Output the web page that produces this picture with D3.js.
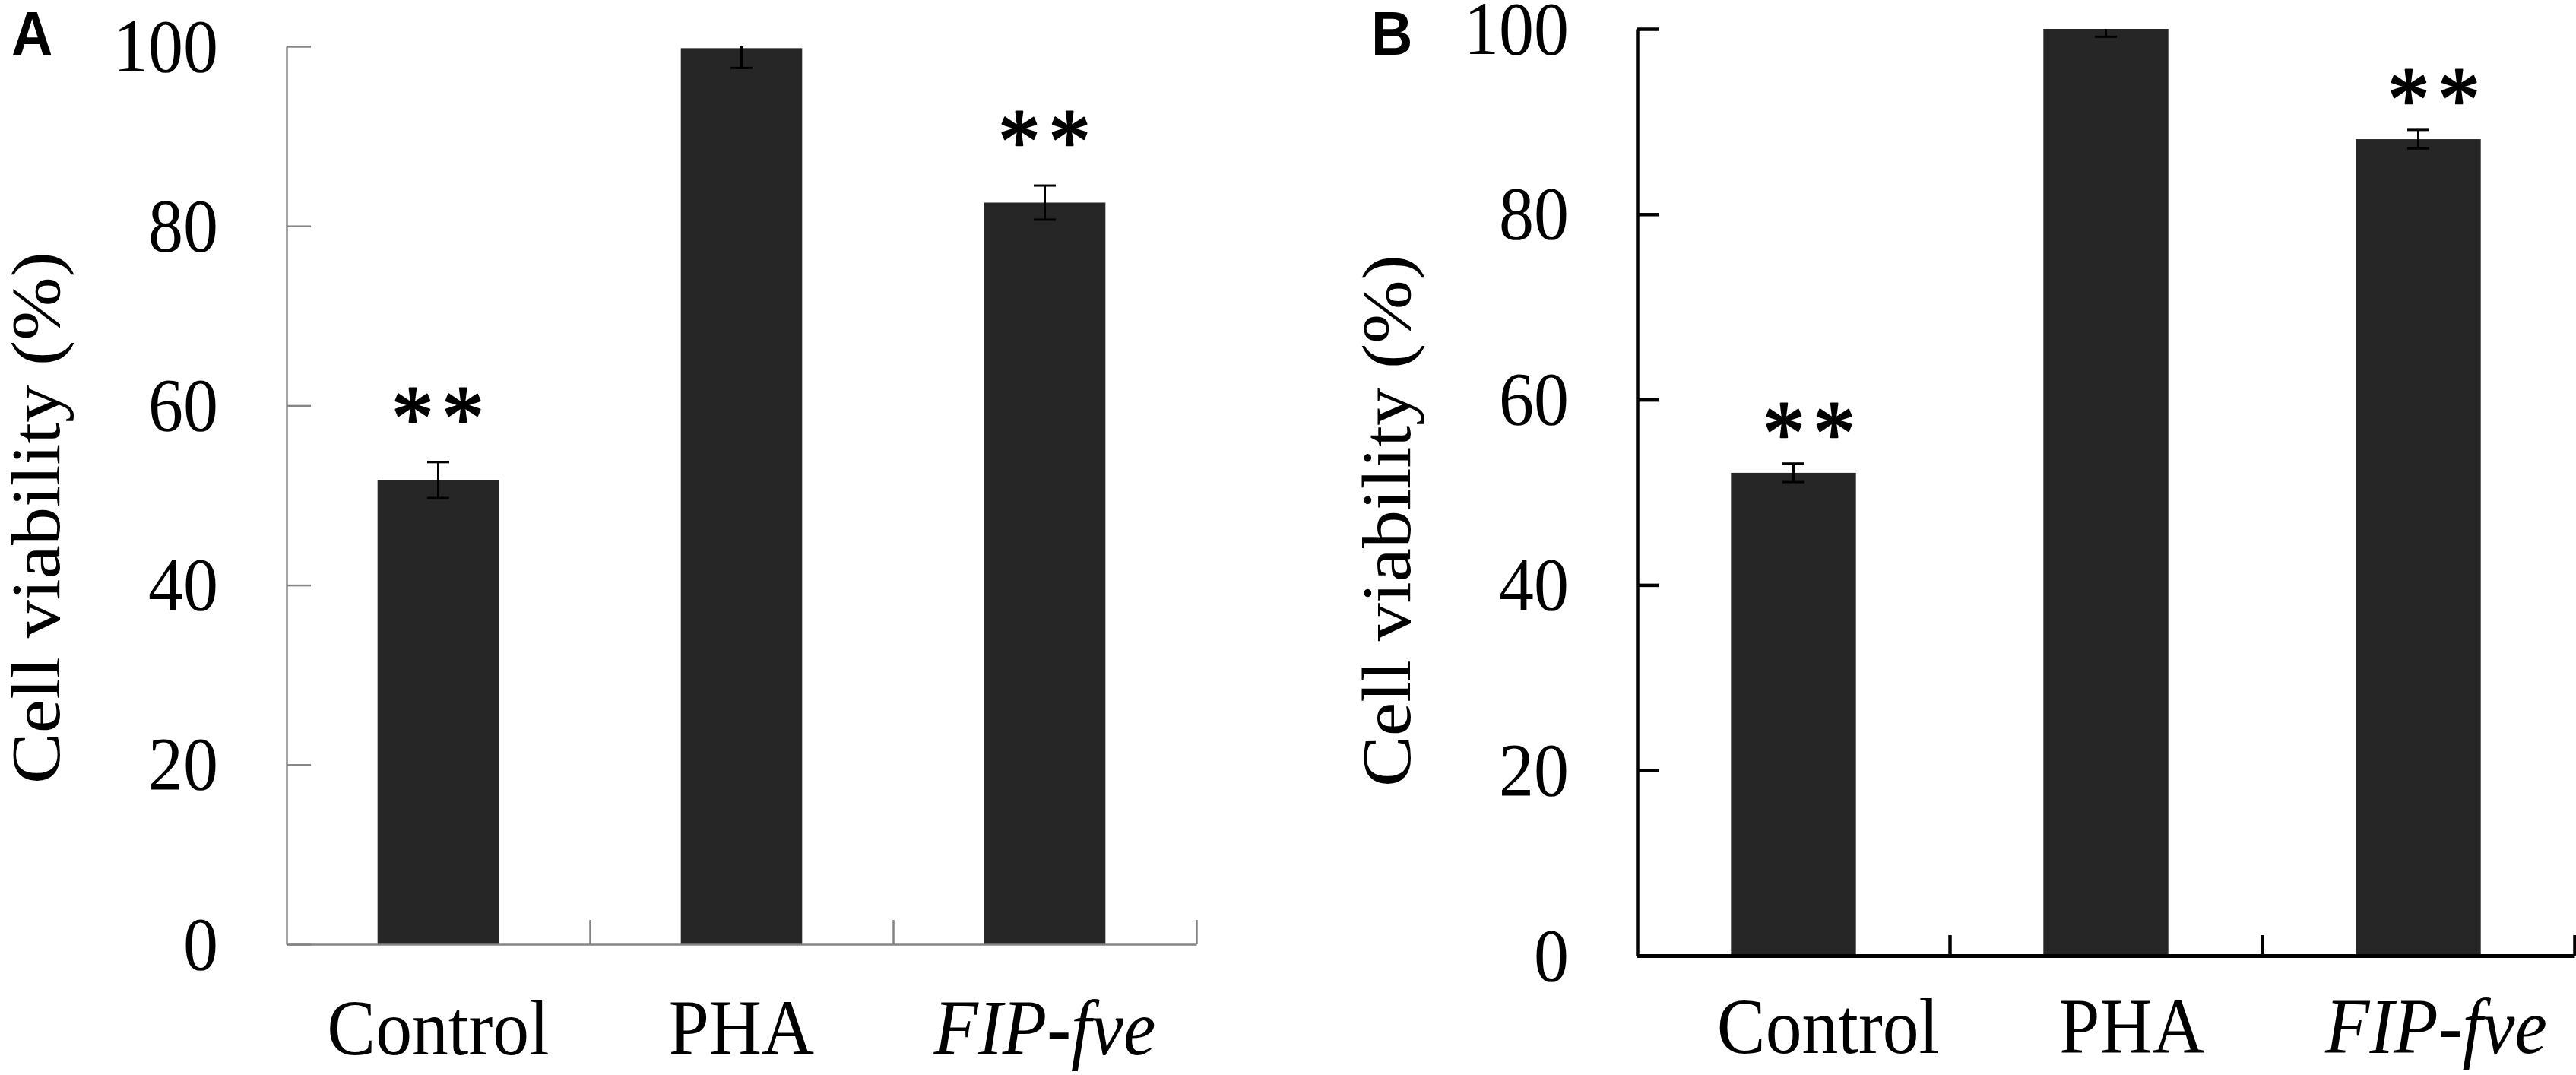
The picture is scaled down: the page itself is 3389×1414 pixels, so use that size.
<!DOCTYPE html>
<html>
<head>
<meta charset="utf-8">
<script src="https://cdn.jsdelivr.net/npm/d3@7"></script>
<style>
  body { margin: 0; background: #fff; }
  svg { display: block; }
</style>
</head>
<body>
<div id="chart"></div>
<script>
var width = 3389,
    height = 1414;

// values
var categories = ["Control", "PHA", "FIP-fve"];
var yTicks = [0, 20, 40, 60, 80, 100];
var viabilityA = [51.7, 99.8, 82.6];
var errorA = [2.0, 2.2, 1.9];
var viabilityB = [52.1, 100, 88.1];
var errorB = [1.0, 0.85, 1.0];
var significance = ["**", "", "**"];

var serif = "'Liberation Serif', 'Times New Roman', serif";
var squeeze = 0.92; // the source figure's type is slightly condensed

var svg = d3.select("#chart").append("svg")
    .attr("width", width)
    .attr("height", height);

function drawPanel(p) {
  var g = svg.append("g");

  var y = d3.scaleLinear()
    .domain([0, 100])
    .range([p.yBottom, p.yTop]);

  var x = d3.scaleBand()
    .domain(categories)
    .range([p.x0, p.x1])
    .paddingInner(0.6)
    .paddingOuter(0.3);

  var xPos = d3.scaleLinear()
    .domain([0, categories.length])
    .range([p.x0, p.x1]);

  var xLabel = d3.scaleBand()
    .domain(categories)
    .range(p.labelRange);

  var rows = categories.map((c, i) => ({cat: c, v: p.values[i], e: p.errors[i], sig: significance[i]}));

  // bars
  g.selectAll("rect.bar")
    .data(rows).enter()
    .append("rect")
    .attr("class", "bar")
    .attr("x", d => x(d.cat))
    .attr("width", x.bandwidth())
    .attr("y", d => y(d.v))
    .attr("height", d => y(0) - y(d.v))
    .attr("fill", "#262626");

  // error bars (clipped at the top of the axis)
  var cx = d => x(d.cat) + x.bandwidth() / 2;
  var capW = 29;
  var eb = g.selectAll("g.err")
    .data(rows).enter()
    .append("g")
    .attr("class", "err")
    .attr("stroke", "#000")
    .attr("stroke-width", 3);
  eb.append("line")
    .attr("x1", cx).attr("x2", cx)
    .attr("y1", d => y(d.v - d.e))
    .attr("y2", d => y(Math.min(100, d.v + d.e)));
  eb.append("line")
    .attr("x1", d => cx(d) - capW / 2).attr("x2", d => cx(d) + capW / 2)
    .attr("y1", d => y(d.v - d.e)).attr("y2", d => y(d.v - d.e));
  eb.filter(d => d.v + d.e <= 100).append("line")
    .attr("x1", d => cx(d) - capW / 2).attr("x2", d => cx(d) + capW / 2)
    .attr("y1", d => y(d.v + d.e)).attr("y2", d => y(d.v + d.e));

  // significance stars
  g.selectAll("text.sig")
    .data(rows.filter(d => d.sig)).enter()
    .append("text")
    .attr("class", "sig")
    .attr("transform", d => `translate(${cx(d) + p.starShift + 5},${y(d.v + d.e) - p.starGap + 0.47 * 120}) scale(${squeeze},1)`)
    .attr("text-anchor", "middle")
    .style("font-family", serif)
    .style("font-size", "120px")
    .style("letter-spacing", "12px")
    .attr("fill", "#000")
    .attr("stroke", "#000")
    .attr("stroke-width", 2.5)
    .attr("stroke-linejoin", "round")
    .text(d => d.sig);

  // y axis
  var yAxis = g.append("g")
    .attr("transform", `translate(${p.x0},0)`)
    .call(d3.axisLeft(y).tickValues(yTicks).tickSize(-p.tickLen).tickSizeOuter(0).tickPadding(90 / squeeze));
  yAxis.select(".domain").attr("stroke", p.axisColor).attr("stroke-width", p.axisWidth);
  yAxis.selectAll(".tick line").attr("stroke", p.axisColor).attr("stroke-width", p.axisWidth);
  yAxis.selectAll(".tick text")
    .attr("transform", `scale(${squeeze},1)`)
    .attr("fill", "#000")
    .style("font-family", serif)
    .style("font-size", "100px");

  // x axis line with boundary ticks
  var xAxis = g.append("g")
    .attr("transform", `translate(0,${y(0)})`)
    .call(d3.axisBottom(xPos).tickValues(d3.range(1, categories.length + 1)).tickSize(-p.xTickLen).tickSizeOuter(0).tickFormat(""));
  xAxis.select(".domain").attr("stroke", p.axisColor).attr("stroke-width", p.xAxisWidth);
  xAxis.selectAll(".tick line").attr("stroke", p.axisColor).attr("stroke-width", p.axisWidth);

  // category labels
  var xLab = g.append("g")
    .attr("transform", `translate(0,${y(0)})`)
    .call(d3.axisBottom(xLabel).tickSize(0).tickPadding(p.labelPad));
  xLab.select(".domain").remove();
  xLab.selectAll(".tick text")
    .attr("transform", `scale(${squeeze},1)`)
    .attr("fill", "#000")
    .style("font-family", serif)
    .style("font-size", "104px")
    .style("font-style", d => d === "FIP-fve" ? "italic" : "normal");

  // y title
  g.append("text")
    .attr("transform", `translate(${p.titleX},${p.titleY}) scale(${squeeze},1) rotate(-90)`)
    .attr("text-anchor", "middle")
    .style("font-family", serif)
    .style("font-size", "100px")
    .attr("fill", "#000")
    .text("Cell viability (%)");

  // panel letter
  g.append("text")
    .attr("transform", `translate(${p.letterX},72) scale(${squeeze},1)`)
    .style("font-family", "'Liberation Sans', Arial, sans-serif")
    .style("font-weight", "bold")
    .style("font-size", "82px")
    .attr("fill", "#000")
    .text(p.letter);
}

drawPanel({
  letter: "A", values: viabilityA, errors: errorA,
  x0: 377, x1: 1574, yTop: 61, yBottom: 1242,
  labelRange: [377, 1574], labelPad: 71,
  axisColor: "#858585", axisWidth: 2.5, xAxisWidth: 2.5,
  tickLen: 32, xTickLen: 32,
  starShift: 0, starGap: 74,
  titleX: 78, titleY: 681, letterX: 15
});

drawPanel({
  letter: "B", values: viabilityB, errors: errorB,
  x0: 2154, x1: 3387, yTop: 38, yBottom: 1257,
  labelRange: [2205, 3405], labelPad: 54,
  axisColor: "#000", axisWidth: 4.5, xAxisWidth: 5,
  tickLen: 29, xTickLen: 27,
  starShift: 21, starGap: 56,
  titleX: 1855, titleY: 685, letterX: 1804
});
</script>
</body>
</html>
